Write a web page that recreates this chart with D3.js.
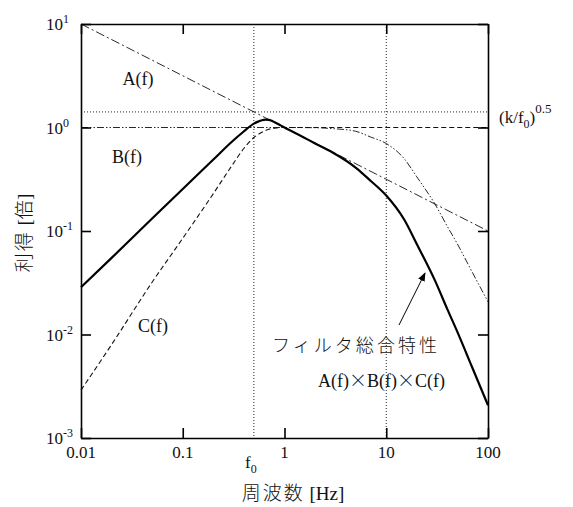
<!DOCTYPE html>
<html>
<head>
<meta charset="utf-8">
<script src="https://cdn.jsdelivr.net/npm/d3@7"></script>
<style>
  body { margin: 0; background: #fff; }
  text { font-family: "Liberation Serif", "Times New Roman", serif; fill: #111; }
  .jp { font-family: "Noto Sans CJK JP", sans-serif; font-weight: 300; }
</style>
</head>
<body>
<svg id="chart" width="573" height="507"></svg>
<script>
// tick values
var xTicks = [0.01, 0.1, 1, 10, 100];
var xTickLabels = ["0.01", "0.1", "1", "10", "100"];
var yTicks = [0.001, 0.01, 0.1, 1, 10];
var yTickExp = ["-3", "-2", "-1", "0", "1"];

// A(f): straight dash-dot line
var aFreq = [0.01, 100];
var aGain = [10, 0.1];

// B(f): low-pass, dash-dot-dot
var bFreq = [0.01, 1, 2, 3, 5, 7, 10, 15, 20, 30, 40, 50, 70, 100];
var bGain = [1, 1, 0.995, 0.975, 0.92, 0.81, 0.70, 0.50, 0.333, 0.183, 0.11, 0.075, 0.04, 0.0207];

// C(f): high-pass, dashed
var cFreq = [0.01, 0.02, 0.05, 0.1, 0.2, 0.3, 0.4, 0.5, 0.6, 0.7, 0.8, 1, 100];
var cGain = [0.0029, 0.008, 0.032, 0.085, 0.23, 0.42, 0.63, 0.80, 0.90, 0.96, 0.985, 1, 1];

// total A*B*C, solid
var tFreq = [0.01, 0.02, 0.05, 0.1, 0.2, 0.3, 0.4, 0.5, 0.55, 0.6, 0.65, 0.7, 0.75, 0.8, 0.9, 1, 1.5, 2, 3, 5, 7, 10, 15, 20, 30, 40, 50, 70, 100];
var tGain = [0.0286, 0.055, 0.132, 0.255, 0.49, 0.72, 0.92, 1.09, 1.14, 1.175, 1.19, 1.185, 1.16, 1.125, 1.057, 1.0, 0.815, 0.70, 0.57, 0.41, 0.306, 0.22, 0.129, 0.0745, 0.0335, 0.0174, 0.0106, 0.0048, 0.00207];

// dotted guides
var refFreq = [0.5, 10];
var refGain = [1.414];

var svg = d3.select("#chart");
var pLeft = 81, pRight = 488, pTop = 24, pBottom = 438;

var x = d3.scaleLog().domain([0.01, 100]).range([pLeft, pRight]);
var y = d3.scaleLog().domain([0.001, 10]).range([pBottom, pTop]);

var line = d3.line()
  .x(function (d) { return x(d[0]); })
  .y(function (d) { return y(d[1]); })
  .curve(d3.curveMonotoneX);

// dotted guides
refFreq.forEach(function (f) {
  svg.append("line")
    .attr("x1", x(f)).attr("x2", x(f))
    .attr("y1", pTop).attr("y2", pBottom)
    .attr("stroke", "#222").attr("stroke-width", 1)
    .attr("stroke-dasharray", "1,2");
});
refGain.forEach(function (g) {
  svg.append("line")
    .attr("x1", pLeft).attr("x2", pRight)
    .attr("y1", y(g)).attr("y2", y(g))
    .attr("stroke", "#222").attr("stroke-width", 1)
    .attr("stroke-dasharray", "1,2");
});

// curves
svg.append("path")
  .attr("d", line(d3.zip(cFreq, cGain)))
  .attr("fill", "none").attr("stroke", "#111")
  .attr("stroke-width", 1.1).attr("stroke-dasharray", "5,3");

svg.append("path")
  .attr("d", line(d3.zip(bFreq, bGain)))
  .attr("fill", "none").attr("stroke", "#111")
  .attr("stroke-width", 0.9).attr("stroke-dasharray", "7,2,1.5,2,1.5,2");

svg.append("path")
  .attr("d", line(d3.zip(aFreq, aGain)))
  .attr("fill", "none").attr("stroke", "#111")
  .attr("stroke-width", 0.9).attr("stroke-dasharray", "9,3,2,3");

svg.append("path")
  .attr("d", line(d3.zip(tFreq, tGain)))
  .attr("fill", "none").attr("stroke", "#000")
  .attr("stroke-width", 2.2);

// axes with inward ticks
var tickLen = 10;
svg.append("g").attr("transform", "translate(0," + pBottom + ")")
  .call(d3.axisBottom(x).tickValues(xTicks).tickSizeInner(-tickLen).tickSizeOuter(0).tickFormat(""));
svg.append("g").attr("transform", "translate(0," + pTop + ")")
  .call(d3.axisTop(x).tickValues(xTicks).tickSizeInner(-tickLen).tickSizeOuter(0).tickFormat(""));
svg.append("g").attr("transform", "translate(" + pLeft + ",0)")
  .call(d3.axisLeft(y).tickValues(yTicks).tickSizeInner(-tickLen).tickSizeOuter(0).tickFormat(""));
svg.append("g").attr("transform", "translate(" + pRight + ",0)")
  .call(d3.axisRight(y).tickValues(yTicks).tickSizeInner(-tickLen).tickSizeOuter(0).tickFormat(""));
svg.selectAll(".domain, .tick line").attr("stroke", "#000").attr("stroke-width", 1.6);

// tick labels
xTicks.forEach(function (t, i) {
  svg.append("text")
    .attr("x", x(t)).attr("y", 458)
    .attr("text-anchor", "middle")
    .attr("font-size", 17)
    .text(xTickLabels[i]);
});
yTicks.forEach(function (t, i) {
  svg.append("text")
    .attr("x", 63).attr("y", y(t) + 6)
    .attr("text-anchor", "end")
    .attr("font-size", 17)
    .text("10");
  svg.append("text")
    .attr("x", 63).attr("y", y(t) - 1)
    .attr("font-size", 12)
    .text(yTickExp[i]);
});

// axis titles
var xt = svg.append("text").attr("x", 293).attr("y", 500)
  .attr("text-anchor", "middle").attr("font-size", 19);
xt.append("tspan").attr("class", "jp").attr("letter-spacing", 2).text("周波数");
xt.append("tspan").text(" [Hz]");

var yt = svg.append("text")
  .attr("transform", "translate(31,233) rotate(-90)")
  .attr("text-anchor", "middle").attr("font-size", 19);
yt.append("tspan").attr("class", "jp").attr("letter-spacing", 2).text("利得");
yt.append("tspan").text(" [");
yt.append("tspan").attr("class", "jp").text("倍");
yt.append("tspan").text("]");

// f0 label
var f0 = svg.append("text").attr("x", 245).attr("y", 468).attr("font-size", 17);
f0.append("tspan").text("f");
f0.append("tspan").attr("dy", 5).attr("font-size", 12).text("0");

// curve labels
[["A(f)", 138, 85], ["B(f)", 127, 163], ["C(f)", 153, 332]].forEach(function (d) {
  svg.append("text").attr("x", d[1]).attr("y", d[2])
    .attr("text-anchor", "middle").attr("font-size", 18).text(d[0]);
});

var kf = svg.append("text").attr("x", 499).attr("y", 123).attr("font-size", 17);
kf.append("tspan").text("(k/f");
kf.append("tspan").attr("dy", 5).attr("font-size", 12).text("0");
kf.append("tspan").attr("dy", -5).text(")");
kf.append("tspan").attr("dy", -10).attr("font-size", 13).text("0.5");

svg.append("text").attr("class", "jp")
  .attr("x", 272).attr("y", 352)
  .attr("font-size", 18)
  .attr("textLength", 165).attr("lengthAdjust", "spacing")
  .text("フィルタ総合特性");

var prod = svg.append("text").attr("x", 318).attr("y", 387).attr("font-size", 18);
["A(f)", "×", "B(f)", "×", "C(f)"].forEach(function (s) {
  var ts = prod.append("tspan").text(s);
  if (s === "×") ts.attr("class", "jp");
});

// arrow
svg.append("defs").append("marker")
  .attr("id", "head").attr("viewBox", "0 0 10 10")
  .attr("refX", 9).attr("refY", 5)
  .attr("markerWidth", 9).attr("markerHeight", 9)
  .attr("markerUnits", "userSpaceOnUse")
  .attr("orient", "auto")
  .append("path").attr("d", "M0,1 L10,5 L0,9 Z").attr("fill", "#000");
svg.append("line")
  .attr("x1", 399).attr("y1", 325)
  .attr("x2", 425).attr("y2", 273)
  .attr("stroke", "#000").attr("stroke-width", 1)
  .attr("marker-end", "url(#head)");
</script>
</body>
</html>
